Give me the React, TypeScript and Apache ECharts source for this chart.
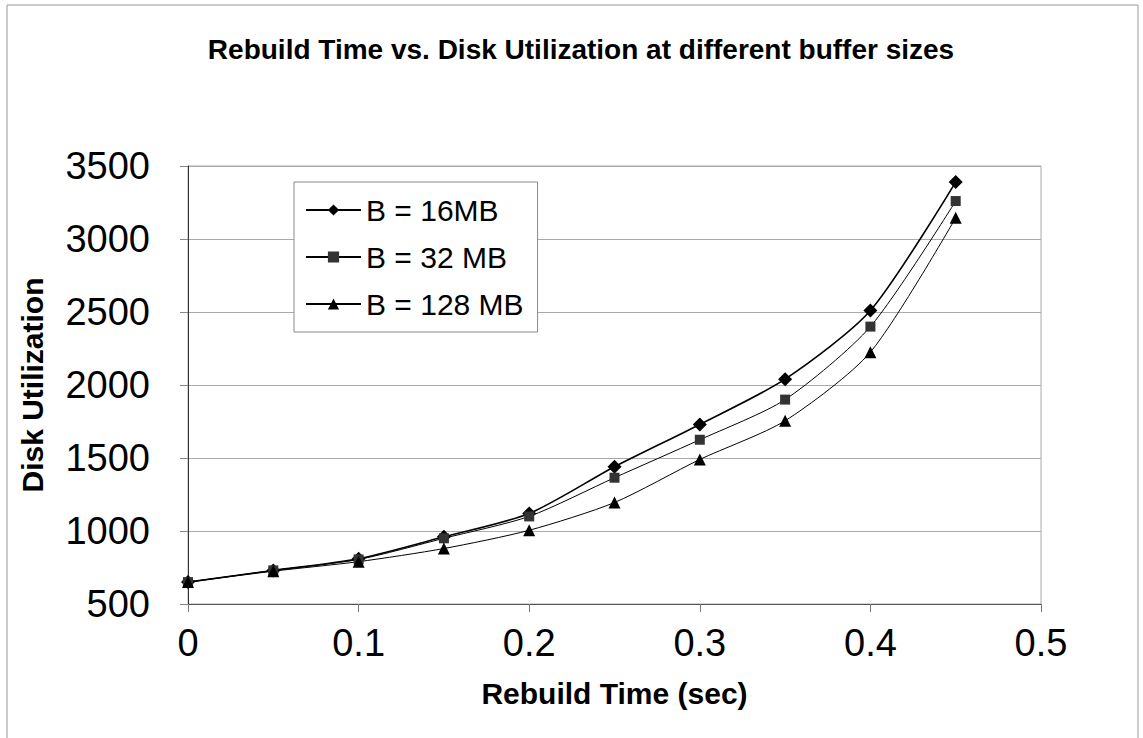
import React, { useEffect, useRef } from "react";
import * as echarts from "echarts";

const xValues = [0, 0.05, 0.1, 0.15, 0.2, 0.25, 0.3, 0.35, 0.4, 0.45];
const b16 = [650, 730, 810, 960, 1120, 1440, 1730, 2040, 2510, 3390];
const b32 = [650, 730, 805, 950, 1100, 1365, 1625, 1900, 2400, 3260];
const b128 = [650, 725, 790, 880, 1005, 1195, 1490, 1755, 2225, 3145];
const seriesNames = ["B = 16MB", "B = 32 MB", "B = 128 MB"];
const titleText = "Rebuild Time vs. Disk Utilization at different buffer sizes";
const xName = "Rebuild Time (sec)";
const yName = "Disk Utilization";

const FONT = "'Liberation Sans', Arial, sans-serif";

export default function App() {
  const ref = useRef<HTMLDivElement>(null);
  useEffect(() => {
    if (!ref.current) return;
    const chart = echarts.init(ref.current, null, { renderer: "svg" });
    const pair = (ys: number[]) => xValues.map((x, i) => [x, ys[i]]);
    const mk = (name: string, ys: number[], symbol: string, size: number, color: string, width: number) => ({
      name,
      type: "line",
      data: pair(ys),
      smooth: 0.25,
      symbol,
      symbolSize: size,
      itemStyle: { color },
      lineStyle: { color: "#000", width },
    });
    chart.setOption({
      animation: false,
      backgroundColor: "#fff",
      textStyle: { fontFamily: FONT },
      title: {
        text: titleText,
        left: 576,
        textAlign: "center",
        top: 30,
        textStyle: { fontFamily: FONT, fontSize: 28, fontWeight: "bold", color: "#000" },
      },
      graphic: [
        {
          type: "rect",
          shape: { x: 7, y: 5, width: 1131, height: 760 },
          style: { fill: "none", stroke: "#999", lineWidth: 1 },
          silent: true,
        },
      ],
      legend: {
        orient: "vertical",
        left: 294,
        top: 182,
        padding: [11, 14, 11, 11],
        borderColor: "#888",
        borderWidth: 1,
        backgroundColor: "#fff",
        itemWidth: 55,
        itemHeight: 14,
        itemGap: 13,
        textStyle: { fontFamily: FONT, fontSize: 30, color: "#000", lineHeight: 34 },
        data: seriesNames,
      },
      grid: { left: 188, right: 102, top: 166, bottom: 134, show: true, borderColor: "#aaa", borderWidth: 1 },
      xAxis: {
        type: "value",
        min: 0,
        max: 0.5,
        interval: 0.1,
        name: xName,
        nameLocation: "middle",
        nameGap: 74,
        nameTextStyle: { fontFamily: FONT, fontSize: 30, fontWeight: "bold", color: "#000" },
        axisLine: { show: true, lineStyle: { color: "#555" } },
        axisTick: { show: true, length: 8, lineStyle: { color: "#777" } },
        splitLine: { show: false },
        axisLabel: { fontFamily: FONT, fontSize: 38, color: "#000", margin: 20 },
      },
      yAxis: {
        type: "value",
        min: 500,
        max: 3500,
        interval: 500,
        name: yName,
        nameLocation: "middle",
        nameGap: 141,
        nameTextStyle: { fontFamily: FONT, fontSize: 30, fontWeight: "bold", color: "#000" },
        axisLine: { show: true, lineStyle: { color: "#333" } },
        axisTick: { show: true, length: 8, lineStyle: { color: "#888" } },
        splitLine: { show: true, lineStyle: { color: "#aaa", width: 1 } },
        axisLabel: {
          fontFamily: FONT,
          fontSize: 38,
          color: "#000",
          margin: 38,
          formatter: (v: number) => String(v),
        },
      },
      series: [
        mk(seriesNames[0], b16, "diamond", 14, "#000", 1.6),
        mk(seriesNames[1], b32, "rect", 10, "#333", 1),
        mk(seriesNames[2], b128, "triangle", 12, "#000", 1),
      ],
    });
    return () => chart.dispose();
  }, []);
  return (
    <div
      ref={ref}
      style={{ position: "fixed", left: 0, top: 0, width: 1143, height: 738, background: "#fff" }}
    />
  );
}
